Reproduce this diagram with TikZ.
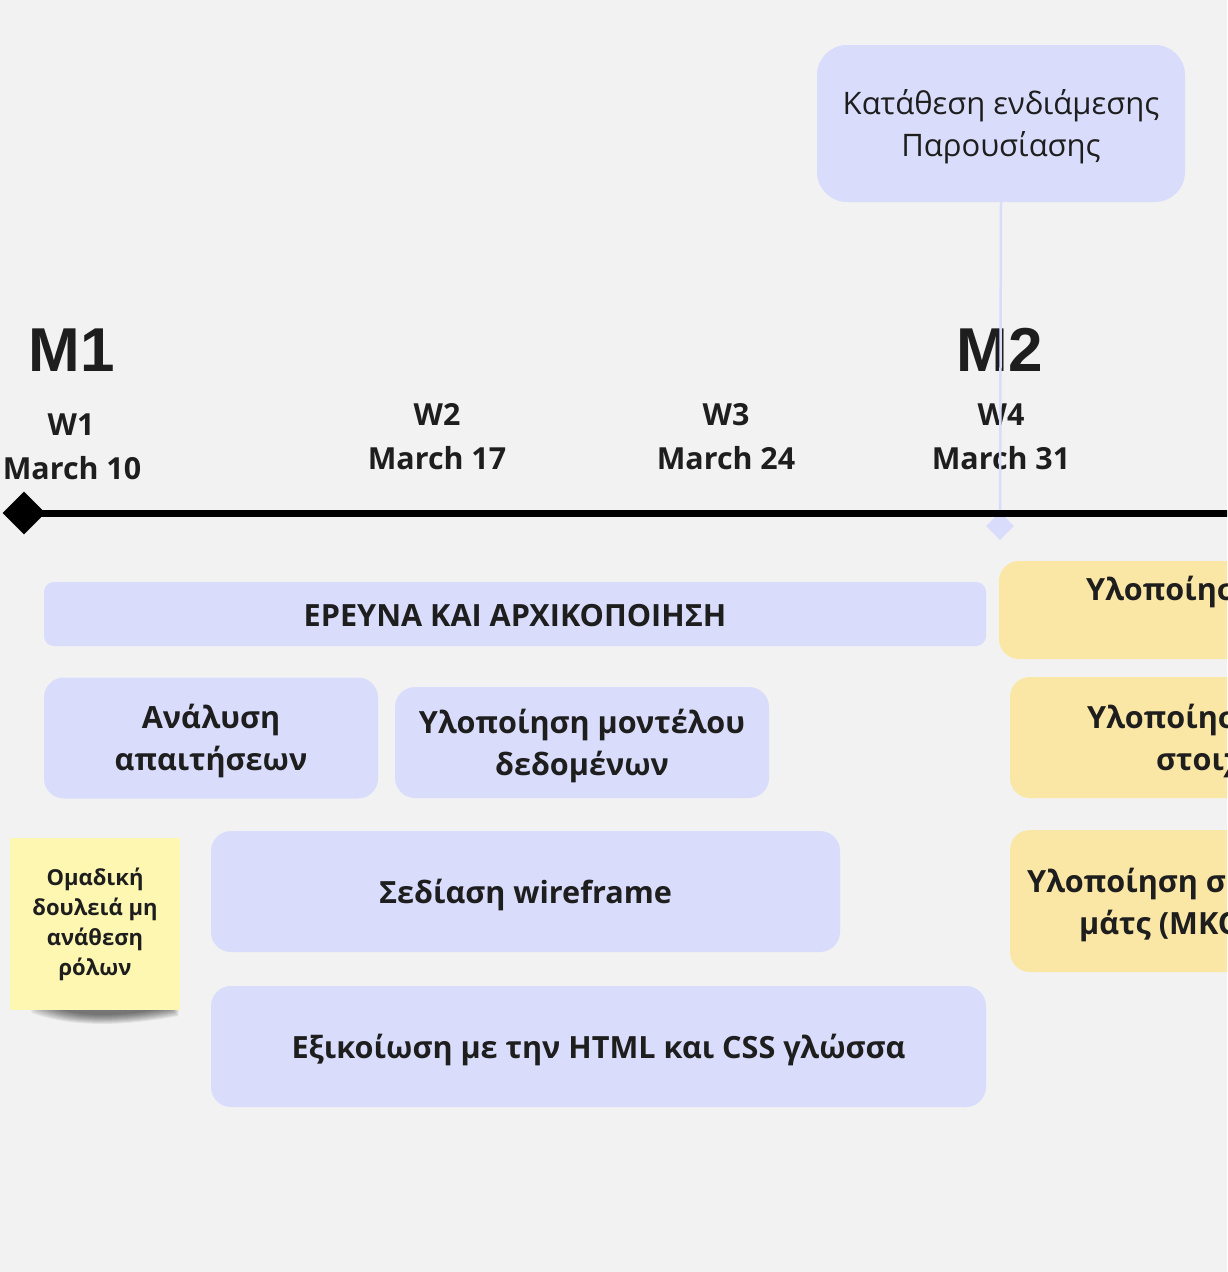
\documentclass[tikz,border=0pt]{standalone}
\usepackage{fontspec}
\setmainfont{Open Sans}
\newfontfamily\mfont{Liberation Sans}
\newfontfamily\tfont{Open Sans}
\usetikzlibrary{shapes.geometric}
\definecolor{bg}{HTML}{F2F2F2}
\definecolor{bluebox}{HTML}{D9DDFB}
\definecolor{yelbox}{HTML}{FAE7A5}
\definecolor{sticky}{HTML}{FEF7B2}
\definecolor{ink}{HTML}{1E1E1E}
\tikzset{
  task/.style={fill=bluebox, draw=none, rounded corners=20pt, inner sep=0pt},
  tasktext/.style={text=ink, font=\bfseries\fontsize{30.6}{42}\selectfont, align=center, inner sep=0pt},
  ytask/.style={fill=yelbox, draw=none, rounded corners=20pt},
  ylabel/.style={anchor=west, text=ink, font=\bfseries\fontsize{30.6}{42}\selectfont, inner sep=0pt},
  wlabel/.style={text=ink, font=\bfseries\fontsize{30.4}{44}\selectfont, align=center, inner sep=0pt},
  mlabel/.style={text=ink, font=\mfont\bfseries\fontsize{62}{62}\selectfont, inner sep=0pt},
}
\begin{document}
\begin{tikzpicture}[x=1pt,y=-1pt]
\useasboundingbox (0,0) rectangle (1227,1272);
\clip (0,0) rectangle (1227,1272);
\fill[bg] (0,0) rectangle (1227,1272);

% milestone box
\node[fill=bluebox, rounded corners=30pt, minimum width=368pt, minimum height=157pt, inner sep=0pt]
  (pres) at (1001,123.5) {};
\node[text=ink, font=\tfont\fontsize{31}{42}\selectfont, align=center, inner sep=0pt]
  (presl) at ([yshift=-3pt]pres.center) {Κατάθεση ενδιάμεσης\\Παρουσίασης};
\coordinate (pd) at (1000,526);

% M labels
\node[mlabel] (m1) at (72,350) {M1};
\node[mlabel] (m2) at (1000,350) {M2};

% week labels
\node[wlabel] (w1) at (71,425) {W1};
\node[wlabel] (w1d) at (72,468) {March 10};
\node[wlabel] (w2) at (437,437) {W2\\March 17};
\node[wlabel] (w3) at (726,437) {W3\\March 24};
\node[wlabel] (w4) at (1001,437) {W4\\March 31};

% link from milestone box to the timeline
\draw[bluebox, line width=2.5pt] (pres.south) -- (pd);
\node[diamond, fill=bluebox, minimum width=28pt, minimum height=28pt, inner sep=0pt] (d2) at (pd) {};

% timeline
\coordinate (tl0) at (24,513);
\coordinate (tl1) at (1240,513);
\draw[line width=7pt, black] (tl0) -- (tl1);
\node[diamond, fill=black, minimum width=43pt, minimum height=43pt, inner sep=0pt] (d1) at (tl0) {};

% blue tasks
\node[task, rounded corners=10pt, minimum width=942pt, minimum height=64pt] (t0) at (515,614) {};
\node[tasktext] (t0l) at ([yshift=-1.5pt]t0.center) {ΕΡΕΥΝΑ ΚΑΙ ΑΡΧΙΚΟΠΟΙΗΣΗ};
\node[task, minimum width=334pt, minimum height=121pt] (t1) at (211,738) {};
\node[tasktext] (t1l) at ([yshift=-3pt]t1.center) {Ανάλυση\\απαιτήσεων};
\node[task, minimum width=374pt, minimum height=111pt] (t2) at (582,742.5) {};
\node[tasktext] (t2l) at ([yshift=-3pt]t2.center) {Υλοποίηση μοντέλου\\δεδομένων};
\node[task, minimum width=629pt, minimum height=121pt] (t3) at (525.5,891.5) {};
\node[tasktext] (t3l) at ([yshift=-3pt]t3.center) {Σεδίαση wireframe};
\node[task, minimum width=775pt, minimum height=121pt] (t4) at (598.5,1046.5) {};
\node[tasktext] (t4l) at ([yshift=-3pt]t4.center) {Εξικοίωση με την HTML και CSS γλώσσα};

% yellow tasks (cut by the right edge)
\fill[ytask] (999,561) rectangle (1300,659);
\fill[ytask] (1010,677) rectangle (1300,798);
\fill[ytask] (1010,830) rectangle (1300,972);
\node[ylabel] (y1) at (1086,592) {Υλοποίηση};
\node[ylabel] (y2a) at (1087,720) {Υλοποίηση};
\node[ylabel] (y2b) at (1156,762) {στοιχείων};
\node[ylabel] (y3a) at (1027,884) {Υλοποίηση σ};
\node[ylabel] (y3b) at (1079,926) {μάτς (ΜΚΟ};

% sticky note with shadow
\foreach \i in {0,...,9} {
  \fill[black, opacity=0.065] (28+2*\i,1000-\i) -- (180-\i,1000-\i) -- (178-\i,1016-\i) .. controls (120,1027-\i) and (70,1027-\i) .. (32+2*\i,1013-\i) -- cycle;
}
\node[fill=sticky, minimum width=170pt, minimum height=172pt, inner sep=0pt,
  text=ink, font=\bfseries\fontsize{22}{30}\selectfont, align=center]
  (note) at (95,924) {Ομαδική\\δουλειά μη\\ανάθεση\\ρόλων};
\end{tikzpicture}
\end{document}
